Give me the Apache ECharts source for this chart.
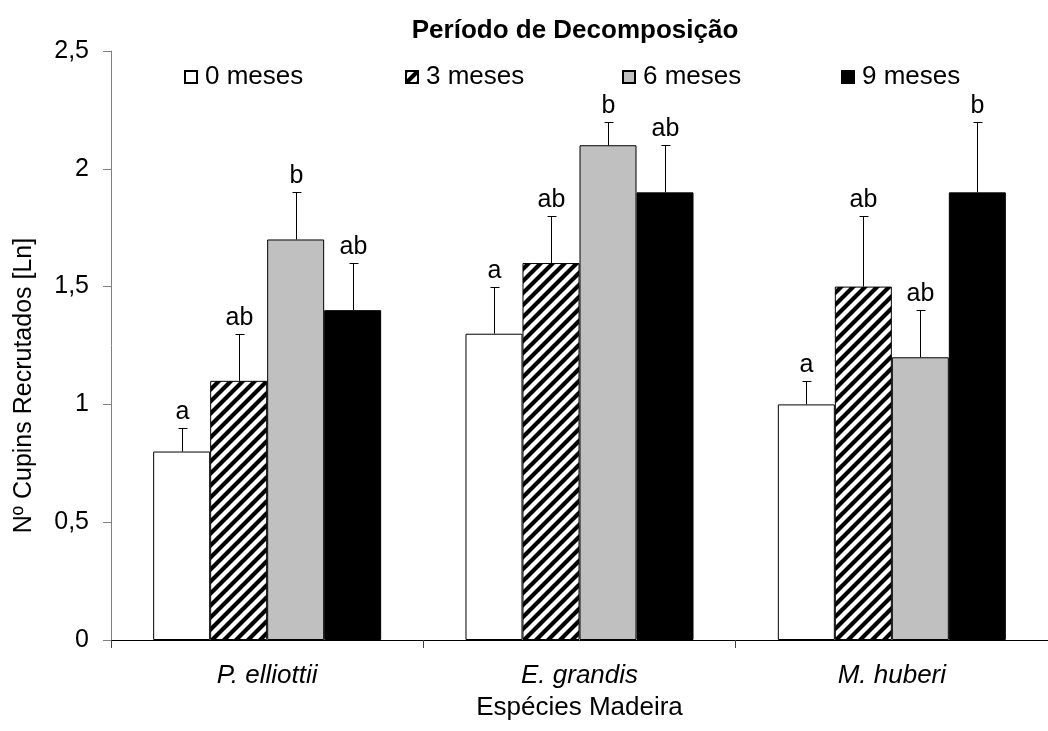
<!DOCTYPE html>
<html><head><meta charset="utf-8">
<script src="https://cdn.jsdelivr.net/npm/echarts@6/dist/echarts.min.js"></script>
<style>html,body{margin:0;padding:0;background:#fff}#c{width:1048px;height:731px}</style>
</head><body><div id="c"></div>
<script>
// ---- data ----
const categories = ['P. elliottii', 'E. grandis', 'M. huberi'];
const seriesNames = ['0 meses', '3 meses', '6 meses', '9 meses'];
const mean0 = [0.8, 1.3, 1.0];
const mean3 = [1.1, 1.6, 1.5];
const mean6 = [1.7, 2.1, 1.2];
const mean9 = [1.4, 1.9, 1.9];
const errTop0 = [0.9, 1.5, 1.1];
const errTop3 = [1.3, 1.8, 1.8];
const errTop6 = [1.9, 2.2, 1.4];
const errTop9 = [1.6, 2.1, 2.2];
const letters0 = ['a', 'a', 'a'];
const letters3 = ['ab', 'ab', 'ab'];
const letters6 = ['b', 'b', 'ab'];
const letters9 = ['ab', 'ab', 'b'];
const yMin = 0, yMax = 2.5, yStep = 0.5;

// ---- layout / style ----
const FONT = 'Liberation Sans';
const GAP = 0.27;
const legendX = [184, 405, 622, 841];

function hatch() {
  const s = 12;
  const c = document.createElement('canvas');
  c.width = s; c.height = s;
  const g = c.getContext('2d');
  g.fillStyle = '#fff'; g.fillRect(0, 0, s, s);
  g.strokeStyle = '#000'; g.lineWidth = 4.2;
  g.beginPath();
  for (const k of [0, s, 2 * s]) { g.moveTo(k + 3, -3); g.lineTo(-3, k + 3); }
  g.stroke();
  return c;
}
const fills = ['#ffffff', { image: hatch(), repeat: 'repeat' }, '#c0c0c0', '#000000'];
const means = [mean0, mean3, mean6, mean9];
const tops = [errTop0, errTop3, errTop6, errTop9];
const letters = [letters0, letters3, letters6, letters9];

const barSeries = seriesNames.map((n, k) => ({
  type: 'bar', name: n, data: means[k],
  barGap: '0%', barCategoryGap: (GAP * 100) + '%',
  itemStyle: { color: fills[k], borderColor: '#000', borderWidth: 1 },
  emphasis: { disabled: true }, animation: false
}));

const errSeries = seriesNames.map((n, k) => ({
  type: 'custom', name: n + ' erro', silent: true, z: 5, animation: false,
  data: categories.map((c, i) => [i, means[k][i], tops[k][i]]),
  encode: { x: 0, y: [1, 2] },
  renderItem: (params, api) => {
    const i = api.value(0);
    const base = api.coord([i, api.value(1)]);
    const top = api.coord([i, api.value(2)]);
    const bandW = api.size([1, 0])[0];
    const barW = bandW * (1 - GAP) / 4;
    const x = Math.round(base[0] + (k - 1.5) * barW) + 0.5;
    const ty = Math.round(top[1]) + 0.5;
    return { type: 'group', children: [
      { type: 'line', shape: { x1: x, y1: base[1], x2: x, y2: ty }, style: { stroke: '#000', lineWidth: 1 } },
      { type: 'line', shape: { x1: x - 4, y1: ty, x2: x + 5, y2: ty }, style: { stroke: '#000', lineWidth: 1 } },
      { type: 'text', x: x, y: ty - 4, style: { text: letters[k][i], fill: '#000', font: '25px "' + FONT + '"', align: 'center', verticalAlign: 'bottom' } }
    ] };
  }
}));

const chart = echarts.init(document.getElementById('c'));
chart.setOption({
  backgroundColor: '#fff',
  animation: false,
  title: { text: 'Período de Decomposição', left: 570, top: 13, textAlign: 'center',
    textStyle: { fontFamily: FONT, fontWeight: 'bold', fontSize: 26, color: '#000' } },
  legend: seriesNames.map((n, k) => ({
    data: [n], left: legendX[k], top: 64, padding: 0, icon: 'rect', itemWidth: 12, itemHeight: 12, itemGap: 6,
    selectedMode: false, textStyle: { fontFamily: FONT, fontSize: 26, color: '#000', padding: [0, 0, 0, 3] }
  })),
  grid: { left: 111, right: -8, top: 51, bottom: 91 },
  xAxis: {
    type: 'category', data: categories,
    name: 'Espécies Madeira', nameLocation: 'middle', nameGap: 55,
    nameTextStyle: { fontFamily: FONT, fontSize: 26, color: '#000' },
    axisLine: { lineStyle: { color: '#000', width: 1 } },
    axisTick: { show: true, length: 8, lineStyle: { color: '#404040' } },
    axisLabel: { fontFamily: FONT, fontStyle: 'italic', fontSize: 26, color: '#000', margin: 23 }
  },
  yAxis: {
    type: 'value', min: yMin, max: yMax, interval: yStep,
    name: 'Nº Cupins Recrutados [Ln]', nameLocation: 'middle', nameGap: 74, nameRotate: 90,
    nameTextStyle: { fontFamily: FONT, fontSize: 25, color: '#000', padding: [0, 80, 0, 0] },
    axisLine: { show: true, lineStyle: { color: '#808080', width: 1 } },
    axisTick: { show: true, length: 8, lineStyle: { color: '#808080' } },
    splitLine: { show: false },
    axisLabel: { fontFamily: FONT, fontSize: 25, color: '#000', margin: 22,
      formatter: v => String(v).replace('.', ',') }
  },
  series: [...barSeries, ...errSeries]
});
</script>
</body></html>
